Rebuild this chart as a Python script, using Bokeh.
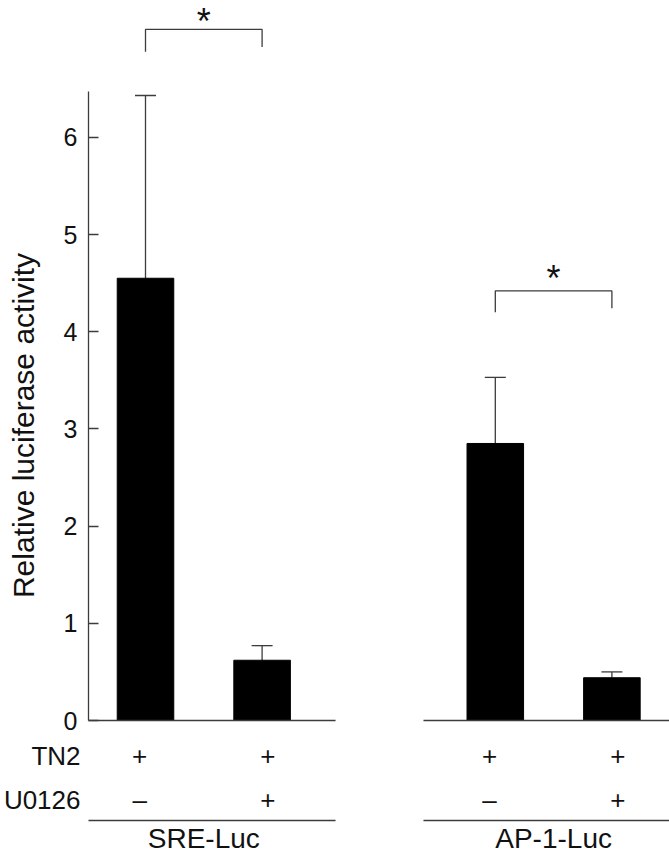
import math
from bokeh.plotting import figure
from bokeh.models import ColumnDataSource, Range1d, LinearAxis, FixedTicker, Whisker, TeeHead
from bokeh.core.properties import value
from bokeh.embed import file_html
from bokeh.resources import INLINE

# ---- data ----
groups = ["SRE-Luc", "AP-1-Luc"]
means = [4.55, 0.62, 2.85, 0.44]
sems = [1.88, 0.15, 0.68, 0.06]
tn2 = ["+", "+", "+", "+"]
u0126 = ["\u2013", "+", "\u2013", "+"]
row_names = ["TN2", "U0126"]
y_ticks = [0, 1, 2, 3, 4, 5, 6]
y_title = "Relative luciferase activity"
sig_marks = ["*", "*"]

# ---- layout constants ----
FONT = value("Liberation Sans")
INK = "#111111"
LINE = "#3c3c3c"
PX = 116.6   # px per x unit
PY = 97.2    # px per y unit
W, H = 669, 853

def ux(px):
    return 1 + (px - 145) / PX

def uy(py):
    return (720 - py) / PY

xs = [g * 3 + k + 1 for g in range(len(groups)) for k in range(2)]
centers = [g * 3 + 1.5 for g in range(len(groups))]
upper = [m + s for m, s in zip(means, sems)]

p = figure(width=W, height=H,
           x_range=Range1d(ux(0), ux(W)),
           y_range=Range1d(uy(H), uy(0)),
           output_backend="svg", toolbar_location=None,
           x_axis_location=None, y_axis_location=None, min_border=0)
p.outline_line_color = None
for g in p.grid:
    g.visible = False

axis_x = ux(88)
yaxis = LinearAxis(fixed_location=axis_x, bounds=(0, 6.47),
                   ticker=FixedTicker(ticks=y_ticks))
yaxis.axis_line_color = LINE
yaxis.axis_line_width = 1.3
yaxis.major_tick_line_color = LINE
yaxis.major_tick_line_width = 1.3
yaxis.major_tick_in = 10
yaxis.major_tick_out = 0
yaxis.minor_tick_line_color = None
yaxis.major_label_standoff = 11
yaxis.major_label_text_font = "Liberation Sans"
yaxis.major_label_text_font_size = "25px"
yaxis.major_label_text_color = INK
p.add_layout(yaxis, "left")

# y title
p.text(x=[ux(23)], y=[uy(425)], text=[y_title], angle=math.pi / 2,
       text_align="center", text_baseline="middle", text_font=FONT,
       text_font_size="30px", text_color=INK)

src = ColumnDataSource(dict(x=xs, top=means, upper=upper))
p.vbar(x="x", top="top", bottom=0, width=0.485, source=src,
       fill_color="black", line_color="black")
p.add_layout(Whisker(base="x", lower="top", upper="upper", source=src,
                     dimension="height", line_color=LINE, line_width=1.3,
                     upper_head=TeeHead(size=21, line_color=LINE, line_width=1.3),
                     lower_head=None))

# baselines and group rules
seg_x0 = [axis_x, centers[1] - 1.116]
seg_x1 = [centers[0] + 1.13, centers[1] + 1.0]
rule_y = uy(820)
p.segment(x0=seg_x0 * 2, x1=seg_x1 * 2, y0=[0, 0, rule_y, rule_y],
          y1=[0, 0, rule_y, rule_y], line_color=LINE, line_width=1.3)

# condition rows
row1_y = uy(755)
row2_y = uy(799)
sign_x = [x + (-0.05 if i % 2 == 0 else 0.05) for i, x in enumerate(xs)]
p.text(x=sign_x, y=[row1_y] * 4, text=tn2, text_align="center", text_baseline="middle",
       text_font=FONT, text_font_size="26px", text_color=INK)
p.text(x=sign_x, y=[row2_y] * 4, text=u0126, text_align="center", text_baseline="middle",
       text_font=FONT, text_font_size="26px", text_color=INK)
p.text(x=[ux(80)] * 2, y=[row1_y, row2_y], text=row_names, text_align="right",
       text_baseline="middle", text_font=FONT, text_font_size="26px", text_color=INK)

# group labels
p.text(x=centers, y=[uy(838)] * 2, text=groups, text_align="center",
       text_baseline="middle", text_font=FONT, text_font_size="28px", text_color=INK)

# significance brackets
br_level = [7.11, 4.42]
br_left = [6.88, 4.20]
br_right = [6.93, 4.24]
bx = [[xs[2 * g], xs[2 * g], xs[2 * g + 1], xs[2 * g + 1]] for g in range(2)]
by = [[br_left[g], br_level[g], br_level[g], br_right[g]] for g in range(2)]
p.multi_line(xs=bx, ys=by, line_color=LINE, line_width=1.3)
star_top = [uy(0.5), uy(257)]
p.text(x=centers, y=star_top, text=sig_marks, text_align="center",
       text_baseline="top", text_font=FONT, text_font_size="36px", text_color=INK)

open("out.html", "w").write(file_html(p, INLINE))
